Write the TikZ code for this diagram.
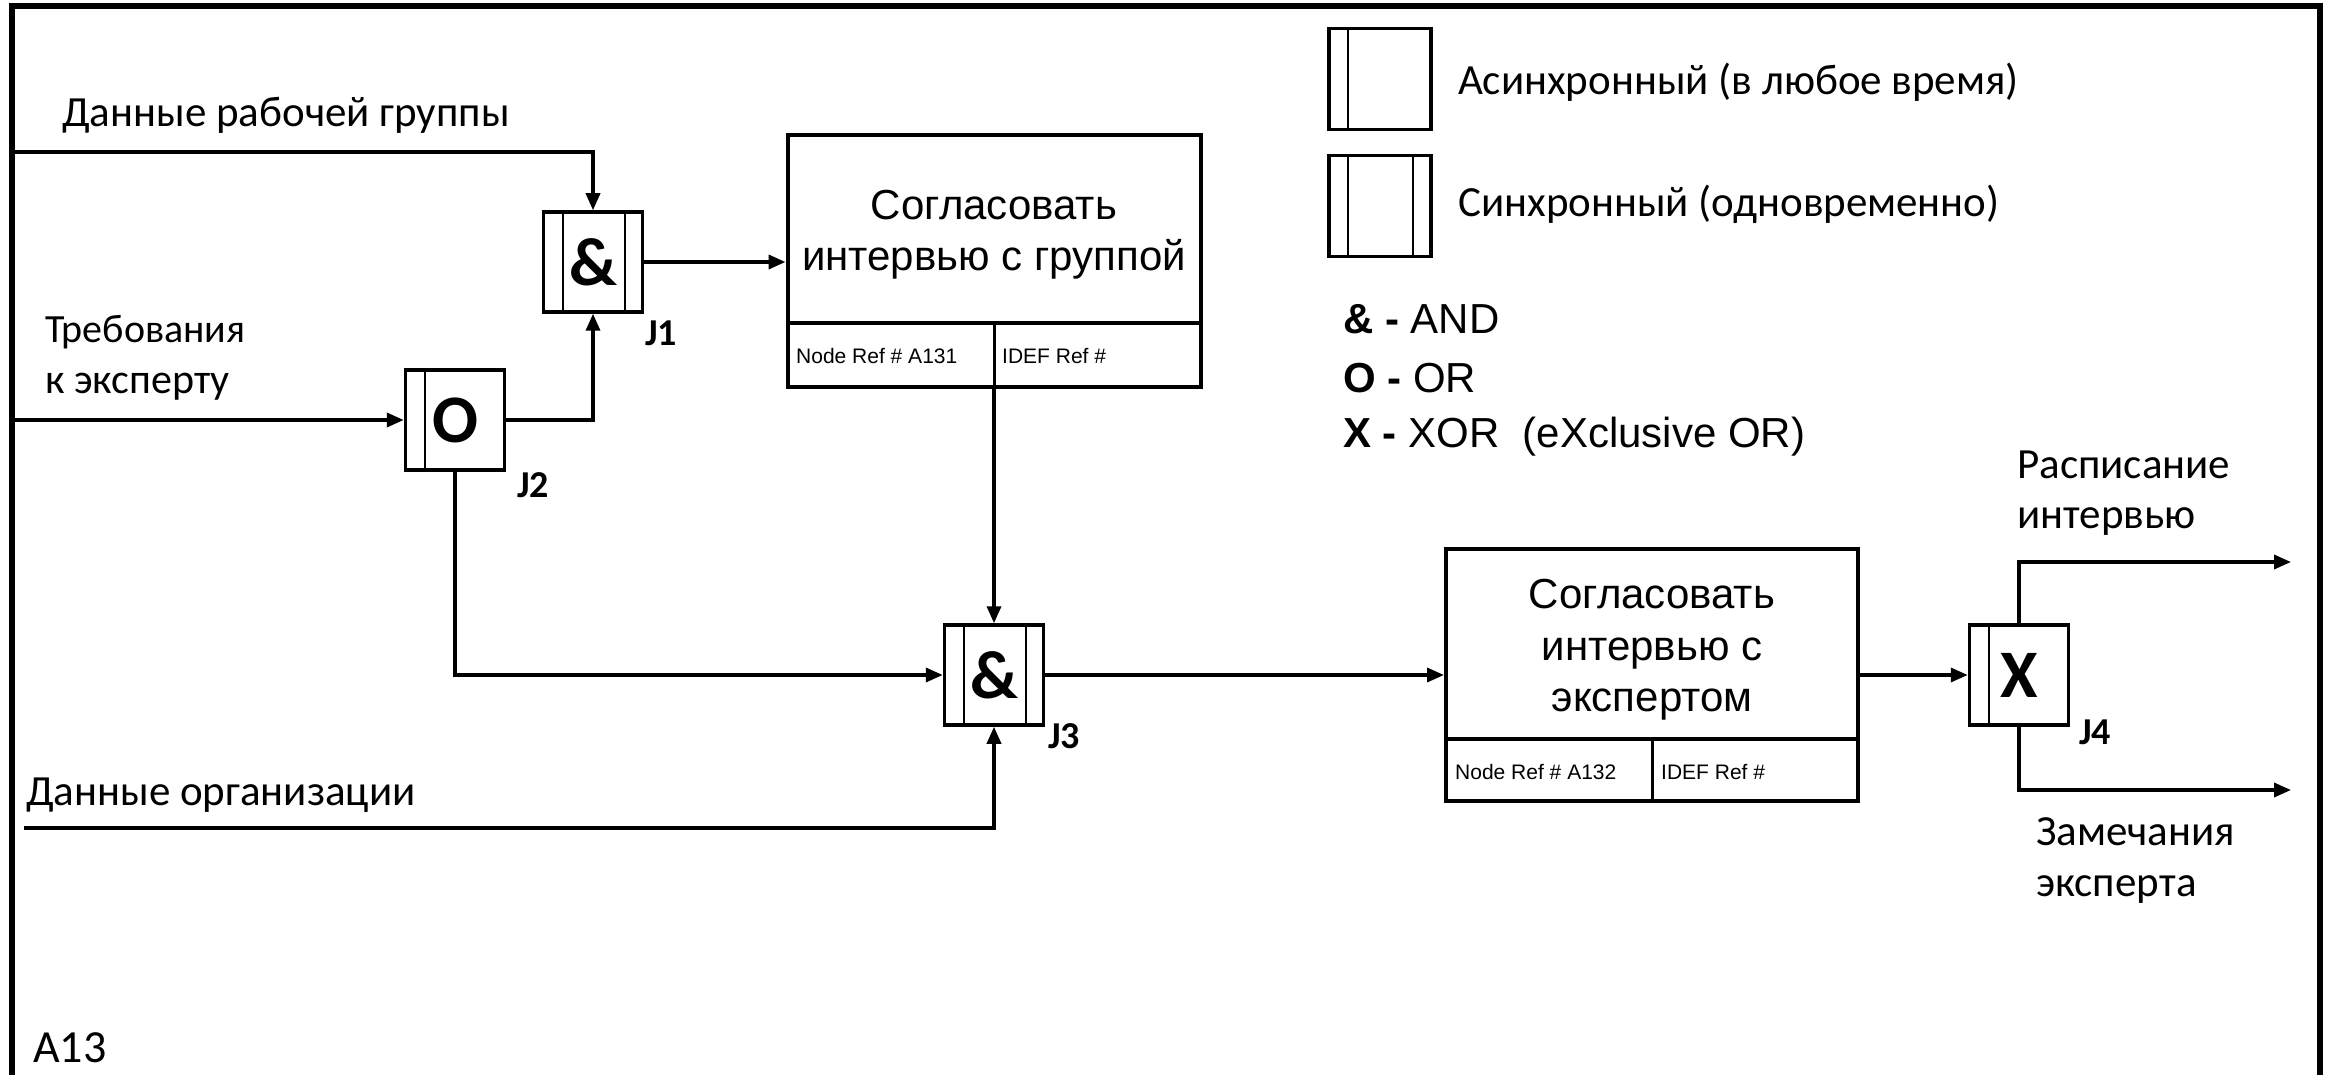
\documentclass[tikz,border=0pt]{standalone}
\usepackage{fontspec}
\setmainfont{Carlito}
\newfontfamily\arialf{Liberation Sans}
\usetikzlibrary{arrows.meta}
\begin{document}
\begin{tikzpicture}[x=1pt,y=-1pt,
  conn/.style={line width=3.5pt, -{Triangle[length=17pt,width=14pt]}},
  junc/.style={draw, line width=3.5pt, minimum width=99pt, minimum height=100pt, inner sep=0pt,
    font=\fontsize{68}{68}\selectfont\bfseries},
  asyncj/.style={junc, path picture={
    \draw[line width=2pt] ([xshift=19pt]path picture bounding box.north west) -- ([xshift=19pt]path picture bounding box.south west);}},
  syncj/.style={junc, path picture={
    \draw[line width=2pt] ([xshift=19pt]path picture bounding box.north west) -- ([xshift=19pt]path picture bounding box.south west);
    \draw[line width=2pt] ([xshift=-18pt]path picture bounding box.north east) -- ([xshift=-18pt]path picture bounding box.south east);}},
  proc/.style={draw, line width=4pt, inner sep=0pt},
  lbl/.style={font=\fontsize{43}{50}\selectfont, inner sep=0pt, anchor=base west},
  jl/.style={font=\fontsize{38}{38}\selectfont\bfseries, inner sep=0pt, anchor=base west},
  ptxt/.style={font=\arialf\fontsize{42}{42}\selectfont, inner sep=0pt, anchor=base},
  reftxt/.style={font=\arialf\fontsize{21}{21}\selectfont, inner sep=0pt, anchor=base west},
  leg/.style={font=\arialf\fontsize{42}{42}\selectfont, inner sep=0pt, anchor=base west},
]
\useasboundingbox (0,0) rectangle (2330,1075);
\fill[white] (0,0) rectangle (2330,1075);
% frame
\draw[line width=6pt] (12,1075) -- (12,6) -- (2320,6) -- (2320,1075);

% junctions
\node[syncj] (j1) at (593,262) {\&};
\node[asyncj] (j2) at (455,420) {O};
\node[syncj] (j3) at (994,675) {\&};
\node[asyncj] (j4) at (2019,675) {X};
\node[jl] (j1l) at (645,345) {J1};
\node[jl] (j2l) at (517,497) {J2};
\node[jl] (j3l) at (1048,748) {J3};
\node[jl] (j4l) at (2079,744) {J4};

% process boxes
\node[proc, minimum width=413pt, minimum height=251pt] (a131) at (994,261) {};
\draw[line width=4pt] ([yshift=65pt]a131.south west) -- ([yshift=65pt]a131.south east);
\draw[line width=3pt] (a131.south) -- ([yshift=65pt]a131.south);
\node[ptxt] (a131t1) at (994,220) {Согласовать};
\node[ptxt] (a131t2) at (994,271) {интервью с группой};
\node[reftxt] (a131r1) at (796,363) {Node Ref \# A131};
\node[reftxt] (a131r2) at (1002,363) {IDEF Ref \#};

\node[proc, minimum width=412pt, minimum height=252pt] (a132) at (1652,675) {};
\draw[line width=4pt] ([yshift=64pt]a132.south west) -- ([yshift=64pt]a132.south east);
\draw[line width=3pt] (a132.south) -- ([yshift=64pt]a132.south);
\node[ptxt] (a132t1) at (1652,608) {Согласовать};
\node[ptxt] (a132t2) at (1652,660) {интервью с};
\node[ptxt] (a132t3) at (1652,711) {экспертом};
\node[reftxt] (a132r1) at (1455,779) {Node Ref \# A132};
\node[reftxt] (a132r2) at (1661,779) {IDEF Ref \#};

% labels
\node[lbl] (l1) at (62,127) {Данные рабочей группы};
\node[lbl, font=\fontsize{40}{40}\selectfont] (l2a) at (45,343) {Требования};
\node[lbl, font=\fontsize{42}{42}\selectfont] (l2b) at (45,393) {к эксперту};
\node[lbl] (l3) at (26,805) {Данные организации};
\node[lbl, font=\fontsize{46}{46}\selectfont] (a13) at (33,1062) {A13};
\node[lbl] (o1a) at (2017,478) {Расписание};
\node[lbl] (o1b) at (2017,528) {интервью};
\node[lbl] (o2a) at (2036,845) {Замечания};
\node[lbl] (o2b) at (2036,896) {эксперта};

% legend
\node[asyncj, minimum width=102pt, minimum height=101pt] (lg1) at (1380,79) {};
\node[syncj, minimum width=102pt, minimum height=101pt] (lg2) at (1380,206) {};
\node[lbl] (lg1t) at (1458,95) {Асинхронный (в любое время)};
\node[lbl] (lg2t) at (1458,217) {Синхронный (одновременно)};
\node[leg] (lgand) at (1343,334) {\textbf{\& -} AND};
\node[leg] (lgor) at (1343,392) {\textbf{O -} OR};
\node[leg] (lgxor) at (1343,447) {\textbf{X -} XOR\ \ (eXclusive OR)};

% connectors
\coordinate (in1) at (12,152);
\coordinate (in2) at (12,420);
\coordinate (in3) at (24,828);
\coordinate (out1) at (2291,562);
\coordinate (out2) at (2291,790);
\draw[conn] (in1) -| (j1.north);
\draw[conn] (in2) -- (j2.west);
\draw[conn] (j2.east) -| (j1.south);
\draw[conn] (j1.east) -- (a131.west |- j1.east);
\draw[conn] (a131.south) -- (j3.north);
\draw[conn] (j2.south) |- (j3.west);
\draw[conn] (in3) -| (j3.south);
\draw[conn] (j3.east) -- (a132.west);
\draw[conn] (a132.east) -- (j4.west);
\draw[conn] (j4.north) |- (out1);
\draw[conn] (j4.south) |- (out2);
\end{tikzpicture}
\end{document}
